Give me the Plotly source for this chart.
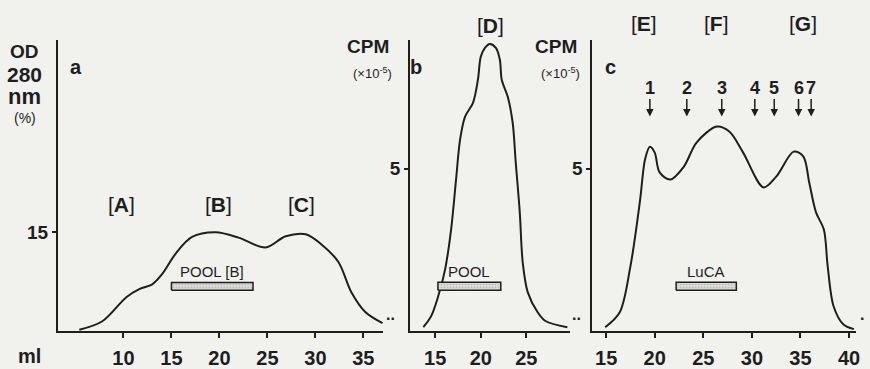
import plotly.graph_objects as go

# ---- data ----
ml_a = [5.4, 7.8, 10.3, 11.7, 13.0, 14.0, 15.5, 17.15, 19.6, 22.0, 24.8, 26.9, 29.0, 30.6, 32.4, 33.75, 35.2, 37.0]
od_a = [0.2, 1.5, 5.15, 6.4, 7.1, 8.6, 11.9, 14.3, 15.0, 14.2, 12.7, 14.4, 14.7, 13.2, 10.5, 5.9, 2.9, 1.2]

ml_b = [13.7, 14.56, 15.33, 16.09, 16.75, 17.29, 17.73, 18.28, 19.15, 19.69, 20.0, 20.46, 21.0, 21.66, 22.1, 22.3, 22.97, 23.5, 23.84, 24.28, 24.6, 25.15, 26.24, 27.1, 29.5]
cpm_b = [0.12, 0.46, 1.07, 1.9, 3.13, 4.66, 5.89, 6.6, 7.02, 7.73, 8.44, 8.71, 8.83, 8.71, 8.34, 7.73, 7.2, 6.41, 5.18, 3.65, 2.12, 1.2, 0.58, 0.31, 0.12]

ml_c = [14.9, 16.4, 17.5, 18.5, 19.0, 19.5, 20.0, 20.5, 21.6, 23.0, 24.3, 26.4, 27.7, 29.1, 31.2, 32.5, 34.3, 35.3, 35.9, 36.6, 37.4, 37.8, 38.4, 39.4, 40.5]
cpm_c = [0.12, 0.58, 2.0, 4.05, 5.28, 5.67, 5.49, 4.88, 4.66, 5.06, 5.8, 6.29, 6.13, 5.49, 4.42, 4.75, 5.52, 5.37, 4.57, 3.65, 3.13, 2.0, 0.77, 0.21, 0.06]

peaks_a = ["A", "B", "C"]
peaks_a_ml = [9.8, 19.95, 28.6]
peaks_b = ["D"]
peaks_b_ml = [21.1]
peaks_c = ["E", "F", "G"]
peaks_c_ml = [18.9, 26.4, 35.3]

marker_nums = ["1", "2", "3", "4", "5", "6", "7"]
marker_ml = [19.5, 23.3, 26.9, 30.3, 32.3, 34.8, 36.1]

pool_labels = ["POOL [B]", "POOL", "LuCA"]
pool_start = [15.0, 15.3, 22.2]
pool_end = [23.5, 22.2, 28.4]
pool_low = [6.2, 1.26, 1.26]
pool_high = [7.4, 1.5, 1.5]

ticks_a_x = [10, 15, 20, 25, 30, 35]
ticks_b_x = [15, 20, 25]
ticks_c_x = [15, 20, 25, 30, 35, 40]
ticks_a_y = [15]
ticks_bc_y = [5]

INK = "#1e1e1e"
BG = "#f1f1ee"
FONT = "Liberation Sans"


def bfont(size, weight="bold"):
    return dict(family=FONT, size=size, color=INK, weight=weight)


fig = go.Figure()

xdom = [[58/870, 385/870], [412/870, 573/870], [595/870, 860/870]]
ydom = [37/369, 329/369]
xr = [[3.15, 37.07], [12.25, 29.83], [13.57, 40.72]]
yr = [[0, 44.24], [0, 8.957], [0, 8.957]]

curves = [(ml_a, od_a), (ml_b, cpm_b), (ml_c, cpm_c)]
for i, (xs, ys) in enumerate(curves):
    sfx = "" if i == 0 else str(i + 1)
    fig.add_trace(go.Scatter(x=xs, y=ys, mode="lines",
                             line=dict(color=INK, width=2, shape="spline", smoothing=0.9),
                             xaxis="x" + sfx, yaxis="y" + sfx, showlegend=False, hoverinfo="skip"))
    # pool bar
    fig.add_trace(go.Scatter(x=[pool_start[i], pool_end[i], pool_end[i], pool_start[i], pool_start[i]],
                             y=[pool_low[i], pool_low[i], pool_high[i], pool_high[i], pool_low[i]],
                             mode="lines", fill="toself", fillcolor="#d6d6d4",
                             fillpattern=dict(shape=".", fgcolor="#8a8a8a", bgcolor="#dcdcda", size=3, solidity=0.25),
                             line=dict(color=INK, width=1.5),
                             xaxis="x" + sfx, yaxis="y" + sfx, showlegend=False, hoverinfo="skip"))
    ymid = pool_high[i] + (1.7 if i == 0 else 0.34)
    fig.add_annotation(x=(pool_start[i] + pool_end[i]) / 2, y=ymid,
                       xref="x" + sfx, yref="y" + sfx, text=pool_labels[i], showarrow=False,
                       font=bfont(15, "normal"))

tickx = [ticks_a_x, ticks_b_x, ticks_c_x]
ticky = [ticks_a_y, ticks_bc_y, ticks_bc_y]
layout = {}
for i in range(3):
    sfx = "" if i == 0 else str(i + 1)
    layout["xaxis" + sfx] = dict(domain=xdom[i], range=xr[i], anchor="y" + sfx,
                                 showgrid=False, zeroline=False, showline=True, linecolor=INK, linewidth=1.8,
                                 tickmode="array", tickvals=tickx[i], ticks="outside", ticklen=5,
                                 tickwidth=1.5, tickcolor=INK,
                                 tickfont=bfont(20), ticklabelstandoff=3)
    layout["yaxis" + sfx] = dict(domain=ydom, range=yr[i], anchor="x" + sfx,
                                 showgrid=False, zeroline=False, showline=True, linecolor=INK, linewidth=1.8,
                                 tickmode="array", tickvals=ticky[i], ticks="outside", ticklen=4,
                                 tickwidth=1.5, tickcolor=INK,
                                 tickfont=bfont(19))

fig.update_layout(width=870, height=369, margin=dict(l=0, r=0, t=0, b=0),
                  paper_bgcolor=BG, plot_bgcolor=BG, **layout)

# peak bracket labels (panel a inside the range; b and c above the axis top)
for lbl, xm in zip(peaks_a, peaks_a_ml):
    fig.add_annotation(x=xm, y=19.2, xref="x", yref="y", text="[<b>%s</b>]" % lbl, showarrow=False,
                       font=bfont(21, "normal"))
for lbl, xm in zip(peaks_b, peaks_b_ml):
    fig.add_annotation(x=xm, y=1.051, xref="x2", yref="y2 domain", text="[<b>%s</b>]" % lbl,
                       showarrow=False, yanchor="middle", font=bfont(21, "normal"))
for lbl, xm in zip(peaks_c, peaks_c_ml):
    fig.add_annotation(x=xm, y=1.058, xref="x3", yref="y3 domain", text="[<b>%s</b>]" % lbl,
                       showarrow=False, yanchor="middle", font=bfont(21, "normal"))

# numbered arrows
for n, xm in zip(marker_nums, marker_ml):
    fig.add_annotation(x=xm, y=6.6, xref="x3", yref="y3", text=n, showarrow=True,
                       ax=0, ay=-29, arrowhead=2, arrowsize=1, arrowwidth=1.5, arrowcolor=INK,
                       font=bfont(18))

# dotted continuation marks past the end of each x axis
for xv, xr_, yr_, t in [(1.021, "x domain", "y domain", ".."), (1.037, "x2 domain", "y2 domain", ".."),
                        (1.023, "x3 domain", "y3 domain", ".")]:
    fig.add_annotation(x=xv, y=0.02, xref=xr_, yref=yr_, text=t, showarrow=False,
                       xanchor="center", yanchor="bottom", font=bfont(16))

# panel letters
for txt, px in [("a", 76), ("b", 418), ("c", 613)]:
    fig.add_annotation(x=px / 870, y=1 - 67 / 369, xref="paper", yref="paper", text=txt,
                       xanchor="center", yanchor="middle", showarrow=False, font=bfont(20))

# y axis titles
ylab = [("OD", 52, 19, "bold"), ("280", 75, 21, "bold"), ("nm", 97, 22, "bold"), ("(%)", 118, 14, "normal")]
for txt, py, fs, w in ylab:
    fig.add_annotation(x=25 / 870, y=1 - py / 369, xref="paper", yref="paper", text=txt,
                       xanchor="center", yanchor="middle", showarrow=False, font=bfont(fs, w))
for cx in [370, 559]:
    fig.add_annotation(x=cx / 870, y=1 - 47 / 369, xref="paper", yref="paper", text="CPM",
                       xanchor="center", yanchor="middle", showarrow=False, font=bfont(19))
    fig.add_annotation(x=(cx + 4) / 870, y=1 - 73 / 369, xref="paper", yref="paper",
                       text="(×10<sup>-5</sup>)", xanchor="center", yanchor="middle",
                       showarrow=False, font=bfont(13, "normal"))

fig.add_annotation(x=30 / 870, y=1 - 357 / 369, xref="paper", yref="paper", text="ml",
                   xanchor="center", yanchor="middle", showarrow=False, font=bfont(20))

fig.write_html("out.html")
